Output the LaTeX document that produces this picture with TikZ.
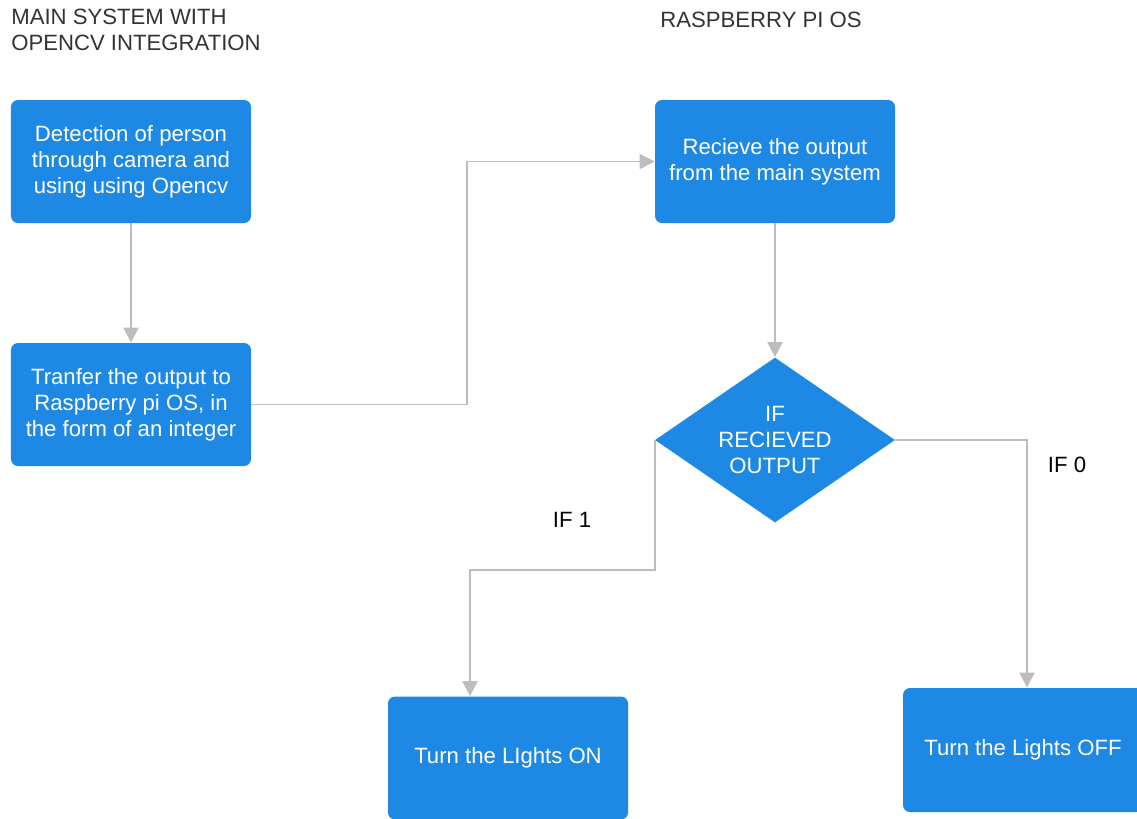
\documentclass[tikz,border=0pt]{standalone}
\usepackage{fontspec}
\setmainfont{Liberation Sans}
\usepackage{tikz}
\usetikzlibrary{arrows.meta,positioning,calc,shapes.geometric}
\usepackage{xcolor}
\definecolor{boxblue}{HTML}{1E88E5}
\definecolor{linegrey}{HTML}{BDBDBD}
\definecolor{titlegrey}{HTML}{333333}

\begin{document}
\begin{tikzpicture}[
every node/.style={font=\fontsize{12.6}{14.8}\selectfont,align=center},
box/.style={fill=boxblue,text=white,rounded corners=0.14cm,minimum width=4.8cm,minimum height=2.46cm,inner sep=2pt},
dec/.style={diamond,fill=boxblue,text=white,aspect=1.45,inner sep=0pt,minimum width=4.8cm,minimum height=3.3cm},
line/.style={draw=linegrey,line width=1.1pt,-{Triangle[width=0.3cm,length=0.3cm]}},
title/.style={text=titlegrey,align=left,inner sep=0pt}]
\useasboundingbox (0,0) rectangle (22.74,-16.36);
% titles
\node[title,anchor=north west] (ttl1) at (0.22,-0.18) {MAIN SYSTEM WITH\\OPENCV INTEGRATION};
\node[title,anchor=north west] (ttl2) at (13.2,-0.24) {RASPBERRY PI OS};
% main system
\node[box] (det) at (2.62,-3.23) {Detection of person\\through camera and\\using using Opencv};
\node[box] (tra) at (2.62,-8.09) {Tranfer the output to\\Raspberry pi OS, in\\the form of an integer};
% raspberry pi
\node[box] (rec) at (15.5,-3.23) {Recieve the output\\from the main system};
\node[dec] (chk) at (15.5,-8.8) {IF\\RECIEVED\\OUTPUT};
\node[box] (on) at (10.16,-15.16) {Turn the LIghts ON};
\node[box,minimum height=2.48cm] (off) at (20.46,-15.0) {Turn the Lights OFF};
\node (if1) at (11.44,-10.4) {IF 1};
\node (if0) at (21.34,-9.3) {IF 0};
% connectors
\draw[line] (det) -- (tra);
\draw[line] (tra.east) -- ++(4.32,0) |- (rec.west);
\draw[line] (rec) -- (chk);
\draw[line] (chk.west) -- ++(0,-2.6) -| ([xshift=-0.76cm]on.north);
\draw[line] (chk.east) -| ([xshift=0.08cm]off.north);
\end{tikzpicture}
\end{document}
